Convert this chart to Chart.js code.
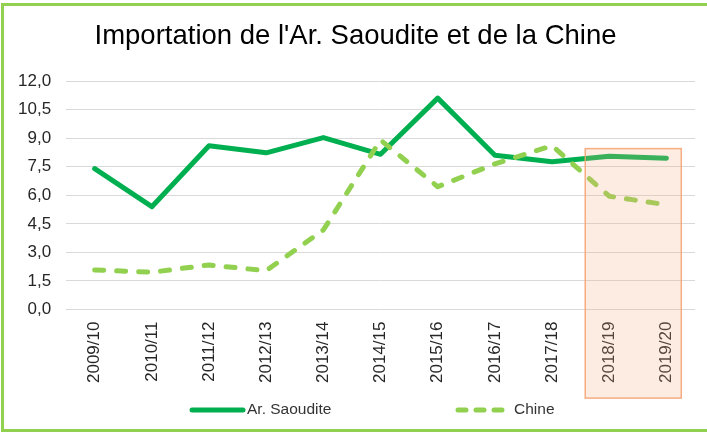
<!DOCTYPE html>
<html>
<head>
<meta charset="utf-8">
<script src="https://cdn.jsdelivr.net/npm/chart.js@4.4.1/dist/chart.umd.min.js"></script>
<style>
  html, body { margin: 0; padding: 0; background: #ffffff; overflow: hidden; }
  #frame { position: absolute; left: 1px; top: 3px; width: 740px; height: 423px; border: 3px solid #92D050; box-sizing: content-box; }
  #wrap { position: absolute; left: 0; top: 0; width: 707px; height: 433px; }
</style>
</head>
<body>
<div id="frame"></div>
<div id="wrap"><canvas id="c" width="707" height="433"></canvas></div>
<script>
const TITLE = "Importation de l'Ar. Saoudite et de la Chine";
const categories = ["2009/10", "2010/11", "2011/12", "2012/13", "2013/14", "2014/15", "2015/16", "2016/17", "2017/18", "2018/19", "2019/20"];
const saoudite = [7.4, 5.4, 8.6, 8.23, 9.03, 8.15, 11.1, 8.1, 7.76, 8.05, 7.95];
const chine = [2.08, 1.96, 2.34, 2.04, 4.18, 8.9, 6.45, 7.65, 8.6, 5.95, 5.5];
const seriesNames = ["Ar. Saoudite", "Chine"];
const yTicks = [0, 1.5, 3, 4.5, 6, 7.5, 9, 10.5, 12];
// highlighted (forecast) period: first and last category index, top & bottom value of the box
const highlightFrom = 9, highlightTo = 10, highlightTop = 8.45, highlightBottom = -4.65;

const COL_SA = '#00B050';
const COL_CN = '#92D050';

const highlightPlugin = {
  id: 'highlight',
  afterDatasetsDraw(chart) {
    const x = chart.scales.x, y = chart.scales.y;
    const step = x.getPixelForValue(1) - x.getPixelForValue(0);
    const left = x.getPixelForValue(highlightFrom) - 0.42 * step;
    const right = x.getPixelForValue(highlightTo) + 0.26 * step;
    const top = y.getPixelForValue(highlightTop);
    const bottom = y.getPixelForValue(highlightBottom);
    const ctx = chart.ctx;
    ctx.save();
    ctx.fillStyle = 'rgba(244,177,131,0.24)';
    ctx.fillRect(left, top, right - left, bottom - top);
    ctx.strokeStyle = 'rgba(244,160,110,0.85)';
    ctx.lineWidth = 1.5;
    ctx.strokeRect(left, top, right - left, bottom - top);
    ctx.restore();
  }
};

const legendPlugin = {
  id: 'customLegend',
  afterDraw(chart) {
    const ctx = chart.ctx;
    const ds = chart.data.datasets;
    const items = [{x: 190, ds: ds[0]}, {x: 456, ds: ds[1]}];
    const yy = 410;
    ctx.save();
    ctx.font = '15.5px "Liberation Sans", Arial, sans-serif';
    ctx.textBaseline = 'middle';
    ctx.fillStyle = '#333333';
    items.forEach(it => {
      ctx.beginPath();
      ctx.strokeStyle = it.ds.borderColor;
      ctx.lineWidth = 5;
      ctx.lineCap = 'round';
      if (it.ds.borderDash && it.ds.borderDash.length) ctx.setLineDash([8, 10]); else ctx.setLineDash([]);
      ctx.moveTo(it.x + 2, yy);
      ctx.lineTo(it.x + 53, yy);
      ctx.stroke();
      ctx.setLineDash([]);
      ctx.fillText(it.ds.label, it.x + (it.ds.borderDash && it.ds.borderDash.length ? 58 : 57), yy);
    });
    ctx.restore();
  }
};

new Chart(document.getElementById('c'), {
  type: 'line',
  data: {
    labels: categories,
    datasets: [
      { label: seriesNames[0], data: saoudite, borderColor: COL_SA, backgroundColor: COL_SA, borderWidth: 5, pointRadius: 0, tension: 0, borderCapStyle: 'round', borderJoinStyle: 'round', order: 1 },
      { label: seriesNames[1], data: chine, borderColor: COL_CN, backgroundColor: COL_CN, borderWidth: 5, pointRadius: 0, tension: 0, borderDash: [9, 13], borderCapStyle: 'round', borderJoinStyle: 'round', order: 0 }
    ]
  },
  options: {
    responsive: false,
    animation: false,
    layout: { padding: { left: 16, right: 12, top: 0, bottom: 38 } },
    plugins: {
      legend: { display: false },
      tooltip: { enabled: false },
      title: {
        display: true,
        text: TITLE,
        color: '#000000',
        font: { family: '"Liberation Sans", Arial, sans-serif', size: 27.5, weight: 'normal' },
        padding: { top: 20, bottom: 28 }
      }
    },
    scales: {
      x: {
        offset: true,
        grid: { display: false, drawTicks: false },
        border: { display: false },
        ticks: {
          color: '#262626',
          minRotation: 90, maxRotation: 90, autoSkip: false, padding: 12,
          font: { family: '"Liberation Sans", Arial, sans-serif', size: 17 }
        }
      },
      y: {
        min: 0, max: 12,
        afterBuildTicks(axis) { axis.ticks = yTicks.map(v => ({ value: v })); },
        afterFit(axis) { axis.width -= 13; },
        grid: { color: '#D9D9D9', lineWidth: 1, drawTicks: false },
        border: { display: false },
        ticks: {
          color: '#262626', padding: 15,
          font: { family: '"Liberation Sans", Arial, sans-serif', size: 17 },
          callback: v => Number(v).toFixed(1).replace('.', ',')
        }
      }
    }
  },
  plugins: [highlightPlugin, legendPlugin]
});
</script>
</body>
</html>
